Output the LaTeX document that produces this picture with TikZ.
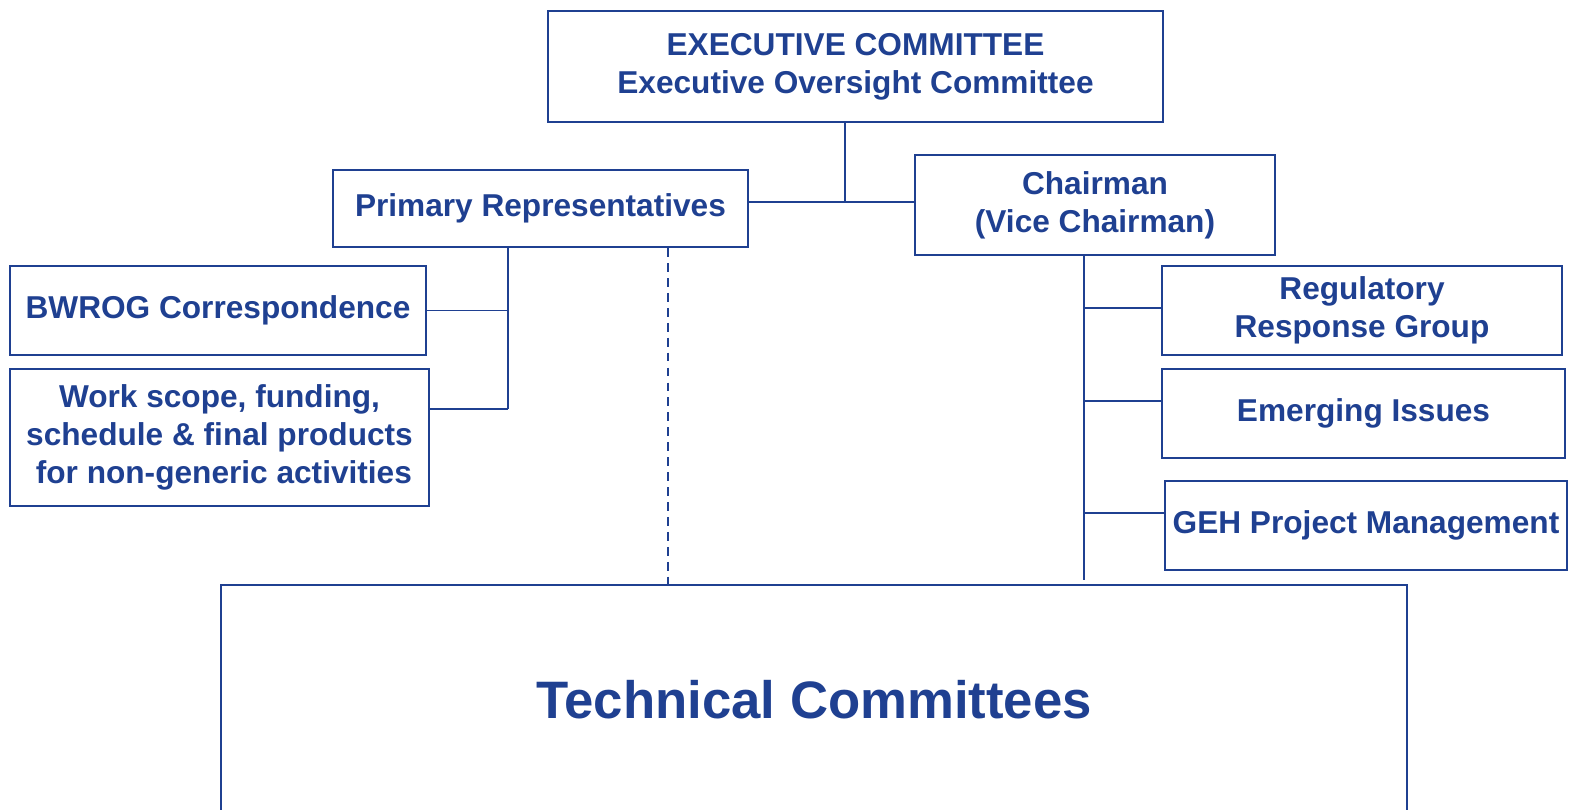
\documentclass[tikz,border=0pt]{standalone}
\usepackage{fontspec}
\setmainfont{Liberation Sans}
\usetikzlibrary{calc}
\definecolor{orgblue}{RGB}{31,64,145}
\tikzset{
  orgbox/.style={draw=orgblue, line width=1.3pt, text=orgblue, align=center, inner sep=0pt,
    font=\fontsize{18}{21.5}\selectfont\bfseries},
  orgline/.style={draw=orgblue, line width=1.1pt}
}

\begin{document}
\begin{tikzpicture}[x=0.02cm, y=-0.02cm]
		%%%%% START %%%%%
		\useasboundingbox (0, 0) rectangle (1572, 809);
		
		\node[orgbox, minimum width=12.3cm, minimum height=2.22cm] (exec) at (855.5, 66.5)
			{EXECUTIVE COMMITTEE\\Executive Oversight Committee};
		\node[orgbox, minimum width=8.3cm, minimum height=1.54cm] (prim) at (540.5, 208.5)
			{Primary Representatives};
		\node[orgbox, minimum width=7.2cm, minimum height=2.0cm] (chair) at (1095, 205)
			{Chairman\\(Vice Chairman)};
		
		\node[orgbox, minimum width=8.32cm, minimum height=1.78cm] (bwrog) at (218, 310.5)
			{BWROG Correspondence};
		\node[orgbox, minimum width=8.38cm, minimum height=2.74cm] (scope) at (219.5, 437.5)
			{Work scope, funding,\\schedule \& final products\\\ for non-generic activities};
		
		\node[orgbox, minimum width=8.0cm, minimum height=1.78cm] (regresp) at (1362, 310.5)
			{Regulatory\\Response Group};
		\node[orgbox, minimum width=8.06cm, minimum height=1.78cm] (emerg) at (1363.5, 413.5)
			{Emerging Issues};
		\node[orgbox, minimum width=8.04cm, minimum height=1.78cm] (geh) at (1366, 525.5)
			{GEH Project Management};
		
		\node[orgbox, line width=1pt, minimum width=23.72cm, minimum height=4.6cm,
			font=\fontsize{30}{36}\selectfont\bfseries] (tech) at (814, 700)
			{Technical Committees};
		
		% executive -> primary / chairman
		\coordinate (top) at (845, 202);
		\draw[orgline] (exec.south -| top) -- (top);
		\draw[orgline] (prim.east |- top) -- (chair.west |- top);
		
		% primary representatives branch
		\coordinate (pbot) at (508, 409);
		\draw[orgline] (prim.south -| pbot) -- (pbot);
		\draw[orgline] (bwrog.east) -- (bwrog.east -| pbot);
		\draw[orgline] (scope.east |- pbot) -- (pbot);
		
		\coordinate (dsh) at (668, 0);
		\draw[orgline, dash pattern=on 5pt off 3.5pt] (prim.south -| dsh) -- (tech.north -| dsh);
		
		% chairman branch
		\coordinate (cbot) at (1084, 580);
		\draw[orgline] (chair.south -| cbot) -- (cbot);
		\draw[orgline] ([yshift=1.4pt]regresp.west) -- ([yshift=1.4pt]regresp.west -| cbot);
		\draw[orgline] ([yshift=7pt]emerg.west) -- ([yshift=7pt]emerg.west -| cbot);
		\draw[orgline] ([yshift=7pt]geh.west) -- ([yshift=7pt]geh.west -| cbot);
		
		%%%%% END %%%%%
\end{tikzpicture}
\end{document}
